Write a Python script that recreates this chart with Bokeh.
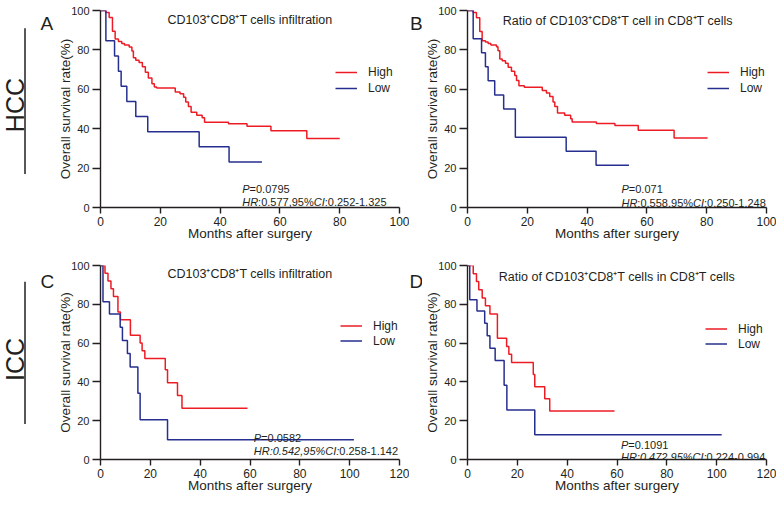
import math
from bokeh.plotting import figure
from bokeh.models import Range1d, Legend, LegendItem, Label, FixedTicker
from bokeh.layouts import row, column
from bokeh.embed import file_html
from bokeh.resources import INLINE
from bokeh.core.properties import value

FONT = "Liberation Sans"
ROW_FONT = "Liberation Sans Narrow, Liberation Sans"
INK = "#231f20"
RED = "#ed1c24"
BLUE = "#262f8f"

# ---------------- data (months, overall survival %) ----------------
a_high_t = [0, 1.8, 2.9, 4.0, 4.9, 6.0, 7.1, 8.0, 9.6, 10.5, 11.0, 11.8, 12.9, 14.0, 15.0, 16.0, 17.2, 18.0, 18.8,
            25.0, 26.6, 27.8, 28.5, 29.4, 30.3, 32.2, 34.0, 34.8, 42.8, 49.0, 57.0, 69.0, 80.0]
a_high_s = [100, 99, 96.5, 89.5, 85.5, 84.3, 83.3, 82.5, 81.5, 79.5, 76, 74.8, 73.6, 71.5, 68.7, 65.7, 62.8, 61.2, 60.6,
            58.6, 57.7, 56, 53.5, 51.3, 48.3, 46.8, 45.5, 43.3, 42.5, 41.2, 39, 35, 35]
a_low_t = [0, 1.8, 4.7, 6.0, 6.9, 8.8, 11.8, 15.8, 33.0, 43.0, 54.0]
a_low_s = [100, 84.6, 76.9, 69.2, 61.5, 53.8, 46.2, 38.5, 30.8, 23.1, 23.1]

b_high_t = [0, 1.9, 3.0, 4.1, 4.9, 6.0, 6.9, 7.8, 9.7, 10.2, 10.8, 11.6, 12.7, 13.6, 14.7, 15.8, 16.4, 17.2, 19.0,
            25.0, 26.4, 27.5, 28.6, 29.2, 30.1, 32.5, 34.5, 35.0, 43.1, 49.3, 57.1, 69.1, 80.3]
b_high_s = [100, 99, 96.3, 89.4, 84.7, 84, 83.3, 82.5, 81.6, 79.6, 75.4, 74.5, 73.2, 71.2, 69.2, 67, 64.5, 61.8, 61.1,
            59.4, 58.1, 56.4, 53.5, 51.3, 48, 46.8, 45.1, 43.4, 42.6, 41.6, 39.2, 35.3, 35.3]
b_low_t = [0, 1.9, 4.7, 6.0, 6.9, 9.1, 12.1, 16.0, 33.0, 43.0, 54.0]
b_low_s = [100, 85.7, 78.6, 71.4, 64.3, 57.1, 50.0, 35.7, 28.6, 21.4, 21.4]

c_high_t = [0, 1.8, 3.0, 4.2, 5.2, 7.0, 8.0, 12.0, 15.9, 16.7, 17.8, 26.0, 26.9, 30.9, 32.7, 59.0]
c_high_s = [100, 96, 92, 88, 84, 76, 72, 64, 60, 56, 52, 46.2, 39.6, 33.0, 26.4, 26.4]
c_low_t = [0, 1.0, 3.6, 7.9, 8.8, 10.8, 11.9, 15.0, 15.9, 26.9, 101.7]
c_low_s = [100, 81.3, 75.0, 68.2, 61.4, 54.6, 47.7, 34.1, 20.5, 10.2, 10.2]

d_high_t = [0, 2.3, 3.6, 4.5, 5.9, 7.2, 9.0, 12.0, 15.7, 16.6, 17.7, 26.4, 27.0, 31.0, 33.0, 59.0]
d_high_s = [100, 95.8, 91.7, 87.5, 83.3, 79.2, 75.0, 62.5, 58.3, 54.2, 50.0, 43.8, 37.5, 31.3, 25.0, 25.0]
d_low_t = [0, 0.9, 3.8, 6.9, 7.9, 9.0, 11.1, 14.7, 15.8, 27.0, 102.0]
d_low_s = [100, 82.4, 76.5, 70.2, 63.8, 57.4, 51.0, 38.3, 25.5, 12.8, 12.8]

y_ticks = [0, 20, 40, 60, 80, 100]
x_ticks_hcc = [0, 20, 40, 60, 80, 100]
x_ticks_icc = [0, 20, 40, 60, 80, 100, 120]

series_labels = ["High", "Low"]
row_labels = ["HCC", "ICC"]
panel_letters = ["A", "B", "C", "D"]
titles = ["CD103\u207aCD8\u207aT cells infiltration",
          "Ratio of CD103\u207aCD8\u207aT cell in CD8\u207aT cells",
          "CD103\u207aCD8\u207aT cells infiltration",
          "Ratio of CD103\u207aCD8\u207aT cells in CD8\u207aT cells"]
p_lines = [[("P", "italic"), ("=0.0795", "normal")],
           [("P", "italic"), ("=0.071", "normal")],
           [("P", "italic"), ("=0.0582", "normal")],
           [("P", "italic"), ("=0.1091", "normal")]]
hr_lines = [[("HR", "italic"), (":0.577,95%", "normal"), ("CI", "italic"), (":0.252-1.325", "normal")],
            [("HR", "italic"), (":0.558,95%", "normal"), ("CI", "italic"), (":0.250-1.248", "normal")],
            [("HR:0.542,95%CI:", "italic"), ("0.258-1.142", "normal")],
            [("HR:0.472,95%CI:", "italic"), ("0.224-0.994", "normal")]]

# Arial / Liberation Sans advance widths (per 1000 em)
W = {'0': 556, '1': 556, '2': 556, '3': 556, '4': 556, '5': 556, '6': 556, '7': 556, '8': 556, '9': 556,
     '.': 278, ',': 278, ':': 278, '-': 333, '%': 889, '=': 584, 'P': 667, 'H': 722, 'R': 722, 'C': 722, 'I': 278}


def tw(s, size):
    return sum(W.get(c, 556) for c in s) / 1000.0 * size


def panel(high_t, high_s, low_t, low_s, xmax, xticks, width, height, ml, mr, mt, mb, idx, cfg):
    p = figure(width=width, height=height, min_border_left=ml, min_border_right=mr,
               min_border_top=mt, min_border_bottom=mb,
               x_range=Range1d(0, xmax), y_range=Range1d(0, 100),
               output_backend="svg", toolbar_location=None, tools="")
    p.xgrid.visible = False
    p.ygrid.visible = False
    p.outline_line_color = None
    p.background_fill_color = "white"
    p.border_fill_color = "white"
    fh = height - mt - mb
    ppy = fh / 100.0

    p.xaxis.ticker = FixedTicker(ticks=xticks)
    p.yaxis.ticker = FixedTicker(ticks=y_ticks)
    p.xaxis.axis_label = "Months after surgery"
    p.yaxis.axis_label = "Overall survival rate(%)"
    for ax in (p.xaxis, p.yaxis):
        ax.axis_line_color = INK
        ax.axis_line_width = 1.4
        ax.major_tick_line_color = INK
        ax.major_tick_line_width = 1.4
        ax.minor_tick_line_color = None
        ax.major_tick_in = 0
        ax.major_label_text_font = FONT
        ax.major_label_text_color = INK
        ax.axis_label_text_font = FONT
        ax.axis_label_text_font_style = "normal"
        ax.axis_label_text_color = INK
        ax.axis_label_text_font_size = "13.5px"
    p.xaxis.major_tick_out = 6
    p.xaxis.major_label_text_font_size = "12px"
    p.xaxis.major_label_standoff = 3
    p.xaxis.axis_label_standoff = -3
    p.yaxis.major_tick_out = 8
    p.yaxis.major_label_text_font_size = "11px"
    p.yaxis.major_label_standoff = 3
    p.yaxis.axis_label_standoff = -5

    r1 = p.step(high_t, high_s, mode="after", line_color=RED, line_width=1.5)
    r2 = p.step(low_t, low_s, mode="after", line_color=BLUE, line_width=1.5)

    leg = Legend(items=[LegendItem(label=series_labels[0], renderers=[r1]),
                        LegendItem(label=series_labels[1], renderers=[r2])],
                 location=cfg["leg"], glyph_width=22, glyph_height=cfg["pitch"], label_height=cfg["pitch"],
                 label_standoff=11, spacing=0, padding=0, margin=0,
                 border_line_alpha=0, background_fill_alpha=0,
                 label_text_font=FONT, label_text_font_size="12px", label_text_color=INK)
    p.add_layout(leg)

    # title inside top of frame
    p.add_layout(Label(x=cfg["title_x"], y=100 - cfg["title_dy"] / ppy, text=titles[idx],
                       text_align="center", text_baseline="alphabetic",
                       text_font=FONT, text_font_size="12.5px", text_color=INK))
    # statistics annotation (mixed italic / upright runs)
    fs = 11
    for segs, yv in ((p_lines[idx], cfg["p_y"]), (hr_lines[idx], cfg["hr_y"])):
        off = 0.0
        for s, style in segs:
            p.add_layout(Label(x=cfg["ann_x"], y=yv, x_offset=off, text=s,
                               text_align="left", text_baseline="alphabetic",
                               text_font=FONT, text_font_size="%dpx" % fs, text_font_style=style,
                               text_color=INK))
            off += tw(s, fs)
    return p


def blank(width, h):
    f = figure(width=width, height=h, x_range=Range1d(0, width), y_range=Range1d(0, h),
               x_axis_location=None, y_axis_location=None, min_border=0,
               output_backend="svg", toolbar_location=None, tools="")
    f.xgrid.visible = False
    f.ygrid.visible = False
    f.outline_line_color = None
    f.border_fill_color = "white"
    f.background_fill_color = "white"
    return f


def letter(f, text, x, baseline_from_top, h):
    f.text(x=[x], y=[h - baseline_from_top], text=[text], text_align="left", text_baseline="alphabetic",
           text_font=value(FONT), text_font_size="19px", text_color=INK)


def row_label(text, h, center_from_top, line_top, line_bottom, let, let_base):
    f = blank(54, h)
    f.text(x=[14.2], y=[h - center_from_top], text=[text], angle=math.pi / 2,
           text_align="center", text_baseline="middle",
           text_font=value(ROW_FONT), text_font_size="25px", text_color=INK)
    f.segment(x0=[24.5], y0=[h - line_top], x1=[24.5], y1=[h - line_bottom], line_color=INK, line_width=1.5)
    letter(f, let, 40, let_base, h)
    return f


H_ROW = 252

pa = panel(a_high_t, a_high_s, a_low_t, a_low_s, 100, x_ticks_hcc, 355, H_ROW, 46, 10, 10, 45, 0,
           dict(leg=(235, 111), pitch=16, title_x=50, title_dy=9.5, ann_x=47.4, p_y=9.6, hr_y=3.0))
pb = panel(b_high_t, b_high_s, b_low_t, b_low_s, 100, x_ticks_hcc, 354, H_ROW, 45, 10, 10, 45, 1,
           dict(leg=(240, 111), pitch=16, title_x=50.3, title_dy=10, ann_x=51.5, p_y=9.2, hr_y=2.5))
pc = panel(c_high_t, c_high_s, c_low_t, c_low_s, 120, x_ticks_icc, 355, H_ROW, 46, 10, 10, 45, 2,
           dict(leg=(240, 111), pitch=15, title_x=60, title_dy=9, ann_x=61.5, p_y=11.0, hr_y=4.4))
pd = panel(d_high_t, d_high_s, d_low_t, d_low_s, 120, x_ticks_icc, 354, H_ROW, 45, 10, 13, 45, 3,
           dict(leg=(238, 108), pitch=15, title_x=60, title_dy=11, ann_x=61.6, p_y=7.6, hr_y=1.5))

lab1 = row_label(row_labels[0], H_ROW, 121, 22.7, 209, panel_letters[0], 17)
lab2 = row_label(row_labels[1], H_ROW, 122, 21, 206, panel_letters[2], 21)
sp1 = blank(13, H_ROW)
letter(sp1, panel_letters[1], 0.5, 17, H_ROW)
sp2 = blank(13, H_ROW)
letter(sp2, panel_letters[3], 0, 21, H_ROW)

layout = column(row(lab1, pa, sp1, pb), row(lab2, pc, sp2, pd))

open("out.html", "w").write(file_html(layout, INLINE))
